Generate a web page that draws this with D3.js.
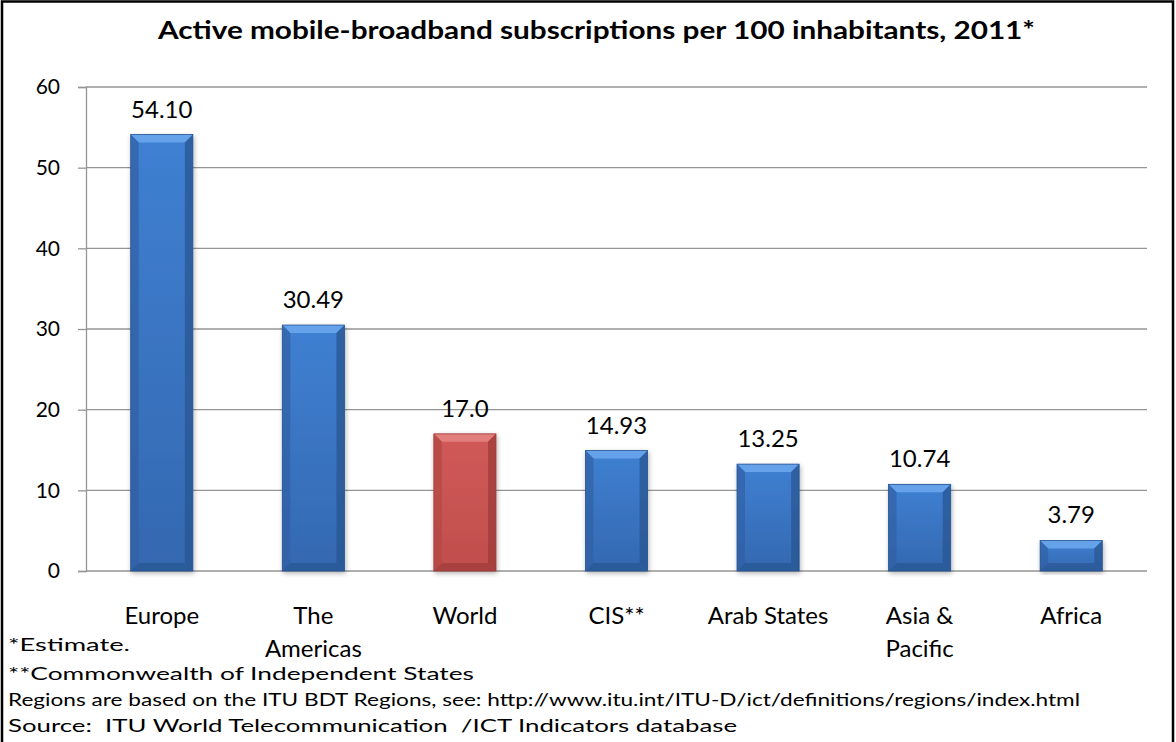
<!DOCTYPE html>
<html>
<head>
<meta charset="utf-8">
<script src="https://cdn.jsdelivr.net/npm/d3@7"></script>
<style>
  html, body { margin: 0; padding: 0; background: #fff; }
  svg { display: block; }
  text { font-family: Lato, "Open Sans", sans-serif; fill: #000; }
  .foot { white-space: pre; }
</style>
</head>
<body>
<svg id="chart" width="1176" height="742"></svg>
<script>
// Regions and their active mobile-broadband subscriptions per 100 inhabitants
const categories = ["Europe", "The\nAmericas", "World", "CIS**", "Arab States", "Asia &\nPacific", "Africa"];
const values = [54.10, 30.49, 17.0, 14.93, 13.25, 10.74, 3.79];
const valueLabels = ["54.10", "30.49", "17.0", "14.93", "13.25", "10.74", "3.79"];
const highlighted = ["World"];
const yTicks = [0, 10, 20, 30, 40, 50, 60];
const footnotes = [
  "*Estimate.",
  "**Commonwealth of Independent States",
  "Regions are based on the ITU BDT Regions, see: http://www.itu.int/ITU-D/ict/definitions/regions/index.html",
  "Source:  ITU World Telecommunication  /ICT Indicators database"
];

const W = 1176, H = 742;
const margin = { left: 86, right: 29, top: 87, bottom: 171 };
const svg = d3.select("#chart");

// outer frame
svg.append("rect").attr("x", 2).attr("y", 1.5).attr("width", W - 5).attr("height", H + 10)
  .attr("fill", "none").attr("stroke", "#000").attr("stroke-width", 2.5);

const x = d3.scaleBand().domain(categories).range([margin.left, W - margin.right]).paddingInner(0.59).paddingOuter(0.295);
const y = d3.scaleLinear().domain([0, 60]).range([H - margin.bottom, margin.top]);

// gradients and drop shadow
const defs = svg.append("defs");
function grad(id, stops) {
  const g = defs.append("linearGradient").attr("id", id).attr("x1", 0).attr("x2", 0).attr("y1", 0).attr("y2", 1);
  stops.forEach(([o, c]) => g.append("stop").attr("offset", o).attr("stop-color", c));
}
grad("blueBody", [[0, "#3f80d2"], [1, "#3468b0"]]);
grad("redBody", [[0, "#d05a57"], [1, "#c04e4c"]]);
const filt = defs.append("filter").attr("id", "shadow").attr("x", "-20%").attr("y", "-5%").attr("width", "140%").attr("height", "115%");
filt.append("feGaussianBlur").attr("in", "SourceAlpha").attr("stdDeviation", 2.5);
filt.append("feOffset").attr("dx", 1).attr("dy", 2).attr("result", "b");
filt.append("feComponentTransfer").append("feFuncA").attr("type", "linear").attr("slope", 0.3);
const fm = filt.append("feMerge");
fm.append("feMergeNode");
fm.append("feMergeNode").attr("in", "SourceGraphic");

// gridlines
svg.append("g").selectAll("line").data(yTicks).join("line")
  .attr("x1", margin.left).attr("x2", W - margin.right)
  .attr("y1", d => y(d)).attr("y2", d => y(d))
  .attr("stroke", "#959595").attr("stroke-width", 1.3);

// y axis
const yAxis = d3.axisLeft(y).tickValues(yTicks).tickSize(8).tickPadding(18);
const gy = svg.append("g").attr("transform", `translate(${margin.left},0)`).call(yAxis);
gy.select(".domain").attr("stroke", "#959595").attr("stroke-width", 1.3);
gy.selectAll(".tick line").attr("stroke", "#959595").attr("stroke-width", 1.3);
gy.selectAll(".tick text").attr("font-size", 21).attr("font-family", "Lato, 'Open Sans', sans-serif").attr("fill", "#000");

// bars with bevelled edges
const bars = svg.append("g").selectAll("g").data(categories).join("g").attr("filter", "url(#shadow)");
bars.each(function(c, i) {
  const g = d3.select(this);
  const x0 = x(c), w = x.bandwidth(), y0 = y(values[i]), y1 = y(0), h = y1 - y0;
  const isRed = highlighted.includes(c);
  const b = Math.min(8, h / 3);
  g.append("rect").attr("x", x0).attr("y", y0).attr("width", w).attr("height", h)
    .attr("fill", isRed ? "url(#redBody)" : "url(#blueBody)");
  const light = isRed ? "#e27e7b" : "#66a2ea";
  const dark = isRed ? "#9e3c3a" : "#2a5692";
  const mid = isRed ? "#b44846" : "#3262a6";
  g.append("path").attr("d", `M${x0},${y0}L${x0 + w},${y0}L${x0 + w - b},${y0 + b}L${x0 + b},${y0 + b}Z`).attr("fill", light);
  g.append("path").attr("d", `M${x0},${y0}L${x0 + b},${y0 + b}L${x0 + b},${y1 - b}L${x0},${y1}Z`).attr("fill", mid).attr("opacity", 0.75);
  g.append("path").attr("d", `M${x0 + w},${y0}L${x0 + w - b},${y0 + b}L${x0 + w - b},${y1 - b}L${x0 + w},${y1}Z`).attr("fill", dark).attr("opacity", 0.75);
  g.append("path").attr("d", `M${x0},${y1}L${x0 + b},${y1 - b}L${x0 + w - b},${y1 - b}L${x0 + w},${y1}Z`).attr("fill", dark).attr("opacity", 0.7);
  g.append("rect").attr("x", x0).attr("y", y0).attr("width", w).attr("height", h)
    .attr("fill", "none").attr("stroke", dark).attr("stroke-width", 0.8);
});

// value labels
svg.append("g").selectAll("text").data(categories).join("text")
  .attr("x", c => x(c) + x.bandwidth() / 2)
  .attr("y", (c, i) => y(values[i]) - 17)
  .attr("text-anchor", "middle").attr("font-size", 24)
  .text((c, i) => valueLabels[i]);

// category labels
const cat = svg.append("g").selectAll("text").data(categories).join("text")
  .attr("x", c => x(c) + x.bandwidth() / 2)
  .attr("y", 624)
  .attr("text-anchor", "middle").attr("font-size", 24);
cat.each(function(c) {
  const t = d3.select(this);
  c.split("\n").forEach((line, k) => {
    t.append("tspan").attr("x", x(c) + x.bandwidth() / 2).attr("dy", k === 0 ? 0 : 33).text(line);
  });
});

// title
svg.append("text").attr("x", 158).attr("y", 39)
  .attr("font-size", 24).attr("font-weight", "bold")
  .attr("textLength", 877).attr("lengthAdjust", "spacingAndGlyphs")
  .text("Active mobile-broadband subscriptions per 100 inhabitants, 2011*");

// footnotes
const footY = [651, 680, 706, 732];
const footW = [122, 466, 1072, 729];
svg.append("g").selectAll("text").data(footnotes).join("text")
  .attr("class", "foot")
  .attr("x", 8).attr("y", (d, i) => footY[i])
  .attr("font-size", 17)
  .attr("textLength", (d, i) => footW[i]).attr("lengthAdjust", "spacingAndGlyphs")
  .text(d => d);
</script>
</body>
</html>
